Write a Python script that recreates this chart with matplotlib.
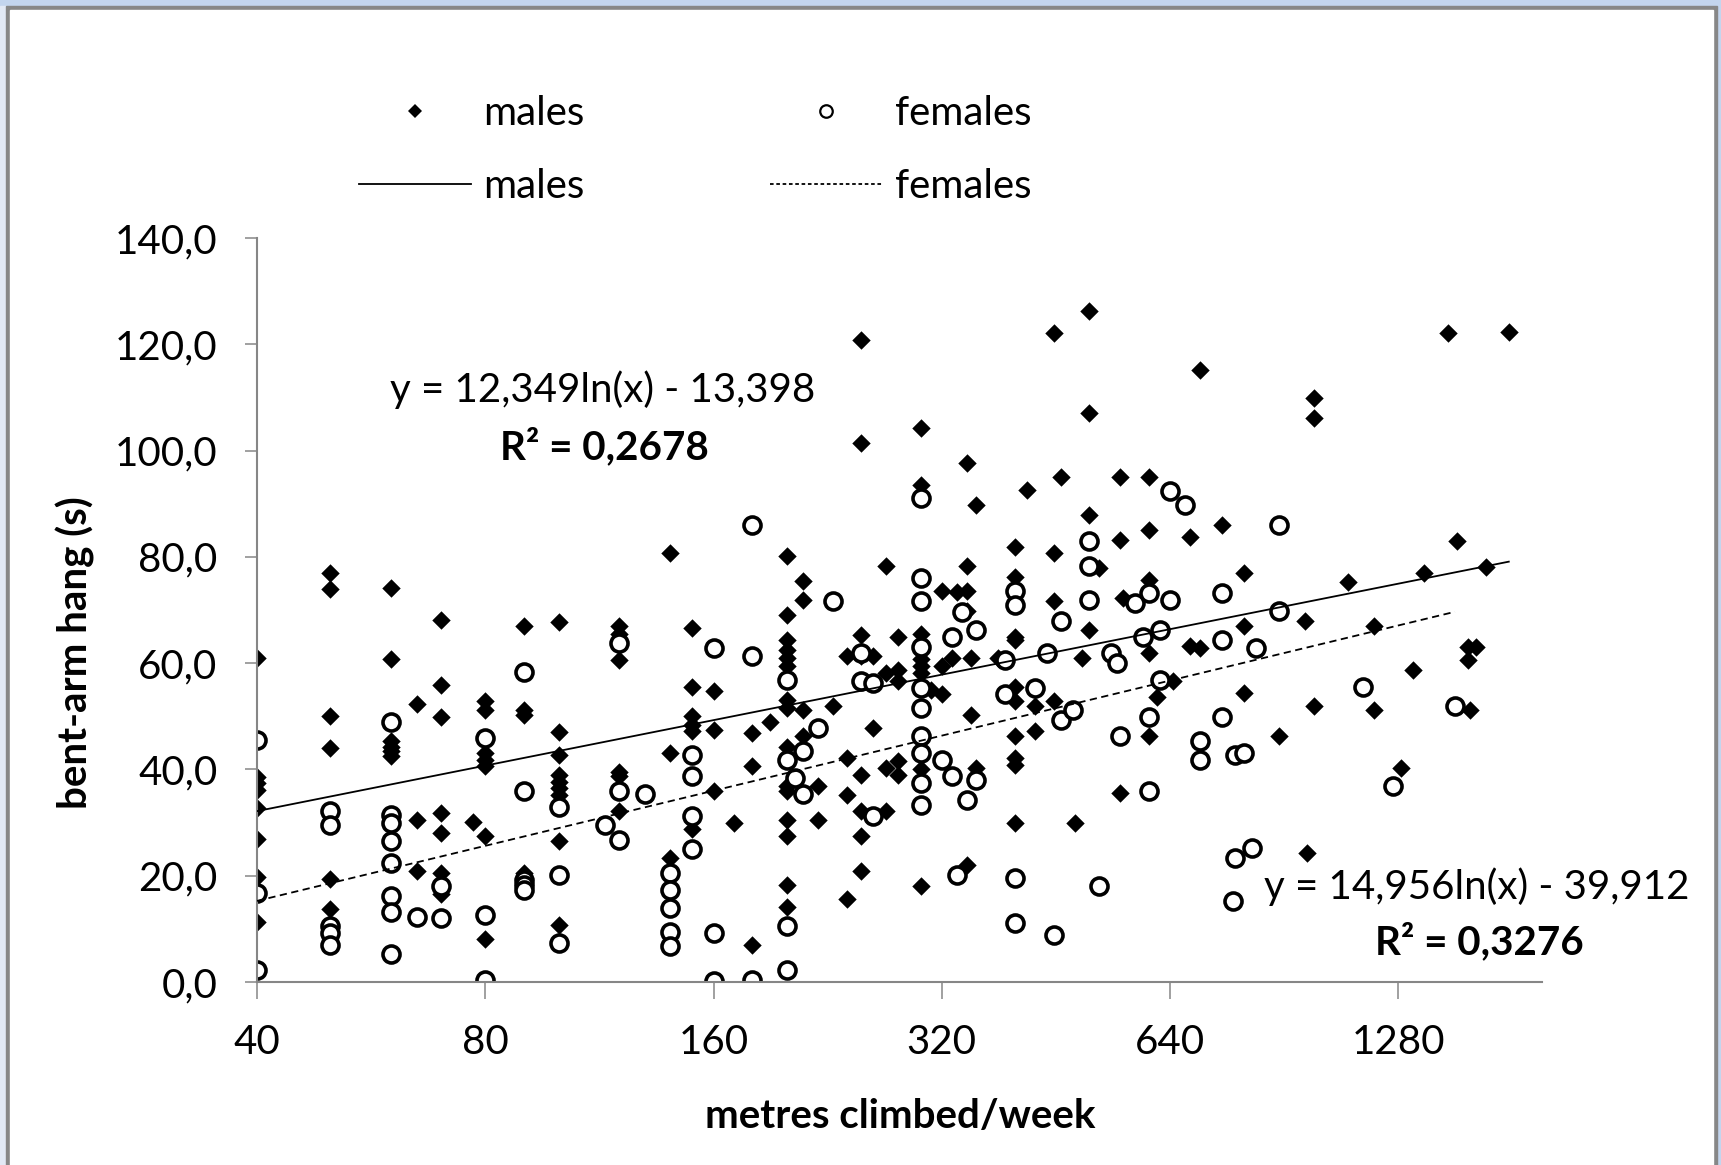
"""Bent-arm hang vs metres climbed per week, males and females, with log trendlines."""
import matplotlib
matplotlib.use("Agg")
import matplotlib.pyplot as plt
import numpy as np
from matplotlib.lines import Line2D
from matplotlib.patches import Rectangle

plt.rcParams["font.family"] = ["Lato", "DejaVu Sans"]

# ---- data ----------------------------------------------------------------
male_x = ([40] * 8 + [50] * 6 + [60] * 6 + [65] * 3 + [70] * 7 + [77] + [80] * 7
          + [90] * 4 + [100] * 9 + [120] * 6 + [140] * 3 + [150] * 6 + [160] * 3
          + [170] + [180] * 3 + [190] + [200] * 15 + [210] * 4 + [220] * 2 + [230]
          + [240] * 4 + [250] * 8 + [260] * 2 + [270] * 4 + [280] * 5 + [300] * 8
          + [310] + [320] * 3 + [330] + [335] + [345] * 5 + [350] * 2 + [355] * 2
          + [380] + [400] * 10 + [415] + [425] * 2 + [450] * 4 + [460] + [480]
          + [490] + [500] * 4 + [515] + [550] * 3 + [555] + [600] * 5 + [615]
          + [645] + [680] * 2 + [700] * 2 + [750] + [800] * 3 + [890] + [965]
          + [970] + [990] * 3 + [1100] + [1190] * 2 + [1290] + [1340] + [1385]
          + [1490] + [1530] + [1580] * 2 + [1620] + [1590] + [1670] + [1790])
male_y = [61.0, 38.6, 37.5, 36.2, 32.8, 26.9, 19.8, 11.2,
          76.9, 74.0, 50.1, 44.0, 19.4, 13.8,
          74.2, 60.8, 45.3, 44.3, 43.4, 42.6,
          52.4, 30.5, 20.8,
          68.2, 55.9, 49.9, 31.8, 28.0, 20.5, 16.5,
          30.2,
          52.8, 51.2, 43.1, 41.8, 40.6, 27.4, 8.0,
          66.9, 51.2, 50.3, 20.5,
          67.8, 47.1, 42.8, 39.0, 37.7, 36.5, 35.2, 26.5, 10.8,
          66.9, 65.5, 60.6, 39.6, 38.7, 32.1,
          80.7, 43.1, 23.3,
          66.6, 55.6, 50.0, 48.4, 47.2, 28.7,
          54.7, 47.5, 35.9,
          29.9,
          46.9, 40.6, 7.0,
          49.0,
          80.1, 69.1, 64.4, 62.5, 61.0, 59.5, 53.1, 51.6, 44.3, 36.8, 35.9, 30.5,
          27.4, 18.3, 14.2,
          75.4, 71.9, 51.2, 46.2,
          36.8, 30.5,
          51.9,
          61.3, 42.1, 35.2, 15.6,
          120.8, 101.4, 65.3, 61.3, 39.0, 32.1, 27.4, 20.8,
          61.3, 47.8,
          78.2, 58.1, 40.3, 32.1,
          65.0, 58.8, 56.6, 41.5, 39.0,
          104.2, 93.6, 65.4, 60.7, 59.5, 58.2, 40.0, 18.0,
          55.0,
          73.5, 59.4, 54.1,
          60.9,
          73.3,
          97.6, 78.2, 73.6, 69.8, 22.1,
          60.9, 50.3,
          89.8, 40.3,
          61.0,
          81.9, 76.3, 65.0, 64.4, 55.6, 52.8, 46.2, 42.1, 40.9, 29.9,
          92.6,
          51.9, 47.2,
          122.1, 80.7, 71.6, 52.8,
          95.1,
          29.9,
          61.0,
          126.2, 107.0, 87.9, 66.3,
          77.9,
          95.1, 83.2, 35.6,
          72.2,
          95.1, 85.1, 75.7, 61.9, 46.2,
          53.7,
          56.6,
          83.8, 63.2,
          115.2, 62.8,
          86.0,
          76.9, 66.9, 54.4,
          46.2,
          67.9,
          24.3,
          109.9, 106.1, 51.9,
          75.3,
          66.9, 51.1,
          40.3,
          58.8,
          76.9,
          122.1,
          82.9,
          63.1, 60.6,
          63.0,
          51.1,
          78.1,
          122.4]

female_x = ([40] * 3 + [50] * 5 + [60] * 8 + [65] + [70] * 2 + [80] * 3 + [90] * 5
            + [100] * 3 + [115] + [120] * 3 + [130] + [140] * 5 + [150] * 4
            + [160] * 3 + [180] * 3 + [200] * 4 + [205] + [210] * 2 + [220] + [230]
            + [250] * 2 + [260] * 2 + [300] * 10 + [320] + [330] * 2 + [335] + [340]
            + [345] + [355] * 2 + [388] * 2 + [400] * 4 + [425] + [440] + [450]
            + [460] * 2 + [477] + [500] * 3 + [515] + [535] + [545] + [550] + [575]
            + [590] + [600] * 3 + [620] * 2 + [640] * 2 + [670] + [700] * 2
            + [750] * 3 + [775] + [780] * 2 + [800] + [820] + [830] + [890] * 2
            + [1150] + [1260] + [1520])
female_y = [45.6, 16.8, 2.3,
            32.1, 29.6, 10.5, 9.3, 7.0,
            49.0, 31.5, 30.0, 26.5, 22.3, 16.1, 13.1, 5.2,
            12.3,
            18.1, 12.0,
            45.9, 12.7, 0.4,
            58.4, 36.0, 19.2, 18.3, 17.4,
            33.0, 20.2, 7.3,
            29.6,
            63.8, 35.9, 26.8,
            35.4,
            20.5, 17.4, 13.9, 9.5, 6.7,
            42.8, 38.7, 31.2, 25.0,
            62.8, 9.3, 0.1,
            86.0, 61.3, 0.4,
            56.9, 41.8, 10.5, 2.3,
            38.4,
            43.4, 35.4,
            47.8,
            71.6,
            61.9, 56.6,
            56.2, 31.2,
            91.1, 76.0, 71.6, 63.1, 55.3, 51.6, 46.2, 43.1, 37.4, 33.4,
            41.8,
            65.0, 38.7,
            20.2,
            69.7,
            34.3,
            66.3, 38.1,
            60.6, 54.1,
            73.5, 71.0, 19.6, 11.1,
            55.3,
            61.9,
            8.9,
            67.9, 49.3,
            51.2,
            82.9, 78.2, 71.9,
            18.0,
            61.9,
            60.0,
            46.2,
            71.3,
            65.0,
            73.2, 49.9, 35.9,
            66.3, 56.9,
            92.3, 71.9,
            89.8,
            45.3, 41.8,
            73.2, 64.4, 49.9,
            15.2,
            42.8, 23.3,
            43.1,
            25.2,
            62.8,
            86.0, 69.9,
            55.6,
            36.8,
            51.9]

# trendline coefficients as printed on the chart: y = a*ln(x) + b
male_fit = (12.349, -13.398, 0.2678)
female_fit = (14.956, -39.912, 0.3276)

x_ticks = [40, 80, 160, 320, 640, 1280]
y_ticks = [0, 20, 40, 60, 80, 100, 120, 140]

# ---- figure -------------------------------------------------------------
W, H = 1721, 1165
FS = 29
fig = plt.figure(figsize=(W / 100, H / 100), dpi=100)
fig.patch.set_facecolor("#c3d5ee")


def fx(px):
    return px / W


def fy(py):
    return 1 - py / H


# window frame
fig.add_artist(Rectangle((0, 0), fx(6), 1 - 6 / H, color="#e2e9f5", zorder=-10))
fig.add_artist(Rectangle((fx(6), 0), (1717 - 6) / W, 1 - 6 / H, color="#878787", zorder=-9))
fig.add_artist(Rectangle((fx(10), 0), (1713 - 10) / W, 1 - 10 / H, color="white", zorder=-8))

ax = fig.add_axes([fx(257), fy(982), 1285 / W, 744 / H])
ax.set_facecolor("none")

ax.scatter(male_x, male_y, marker="D", s=88, color="black", linewidths=0, zorder=2)
ax.scatter(female_x, female_y, marker="o", s=150, facecolor="white", edgecolor="black",
           linewidths=2.6, zorder=2.5)

mx = np.geomspace(min(male_x), max(male_x), 200)
ax.plot(mx, male_fit[0] * np.log(mx) + male_fit[1], color="black", lw=1.3, zorder=3)
fxs = np.geomspace(min(female_x), max(female_x), 200)
ax.plot(fxs, female_fit[0] * np.log(fxs) + female_fit[1], color="black", lw=1.3,
        linestyle=(0, (4, 2.5)), zorder=3)

ax.set_xscale("log", base=2)
ax.set_xlim(40, 1980)
ax.set_ylim(0, 140)
ax.set_xticks(x_ticks)
ax.set_xticklabels([str(t) for t in x_ticks])
ax.xaxis.set_minor_locator(matplotlib.ticker.NullLocator())
ax.set_yticks(y_ticks)
ax.set_yticklabels([f"{t:.1f}".replace(".", ",") for t in y_ticks])

for s in ("top", "right"):
    ax.spines[s].set_visible(False)
for s in ("left", "bottom"):
    ax.spines[s].set_color("#868686")
    ax.spines[s].set_linewidth(1.5)
ax.tick_params(axis="x", direction="out", length=12, width=1.1, color="#868686",
               labelsize=FS, pad=18)
ax.tick_params(axis="y", direction="out", length=8.6, width=1.1, color="#868686",
               labelsize=FS, pad=20)

ax.set_ylabel("bent-arm hang (s)", fontsize=FS, fontweight="bold", va="center")
ax.yaxis.set_label_coords((75 - 257) / 1285, (982 - 653) / 744)
ax.set_xlabel("metres climbed/week", fontsize=FS, fontweight="bold", va="center")
ax.xaxis.set_label_coords((900 - 257) / 1285, (982 - 1116) / 744)


def eq_text(fit):
    a, b, _ = fit
    sign = "-" if b < 0 else "+"
    return f"y = {a:.3f}ln(x) {sign} {abs(b):.3f}".replace(".", ",")


def r2_text(fit):
    return f"R² = {fit[2]:.4f}".replace(".", ",")


fig.text(fx(603), fy(390), eq_text(male_fit), fontsize=FS, ha="center", va="center")
fig.text(fx(604), fy(447), r2_text(male_fit), fontsize=FS, fontweight="bold",
         ha="center", va="center")
fig.text(fx(1477), fy(887), eq_text(female_fit), fontsize=FS, ha="center", va="center")
fig.text(fx(1479), fy(942), r2_text(female_fit), fontsize=FS, fontweight="bold",
         ha="center", va="center")

handles = [
    Line2D([], [], marker="D", ls="none", color="black", markersize=7, markeredgewidth=0),
    Line2D([], [], color="black", lw=1.3),
    Line2D([], [], marker="o", ls="none", markerfacecolor="white", markeredgecolor="black",
           markersize=9, markeredgewidth=1.6),
    Line2D([], [], color="black", lw=1.3, linestyle=(0, (2, 1.5))),
]
labels = ["males", "males", "females", "females"]
fig.legend(handles, labels, loc="center", bbox_to_anchor=(fx(695), fy(150)), ncol=2,
           frameon=False, fontsize=FS, handlelength=2.8, handletextpad=0.3,
           columnspacing=4.6, labelspacing=0.88)

fig.savefig("out.png", dpi=100, facecolor=fig.get_facecolor())
